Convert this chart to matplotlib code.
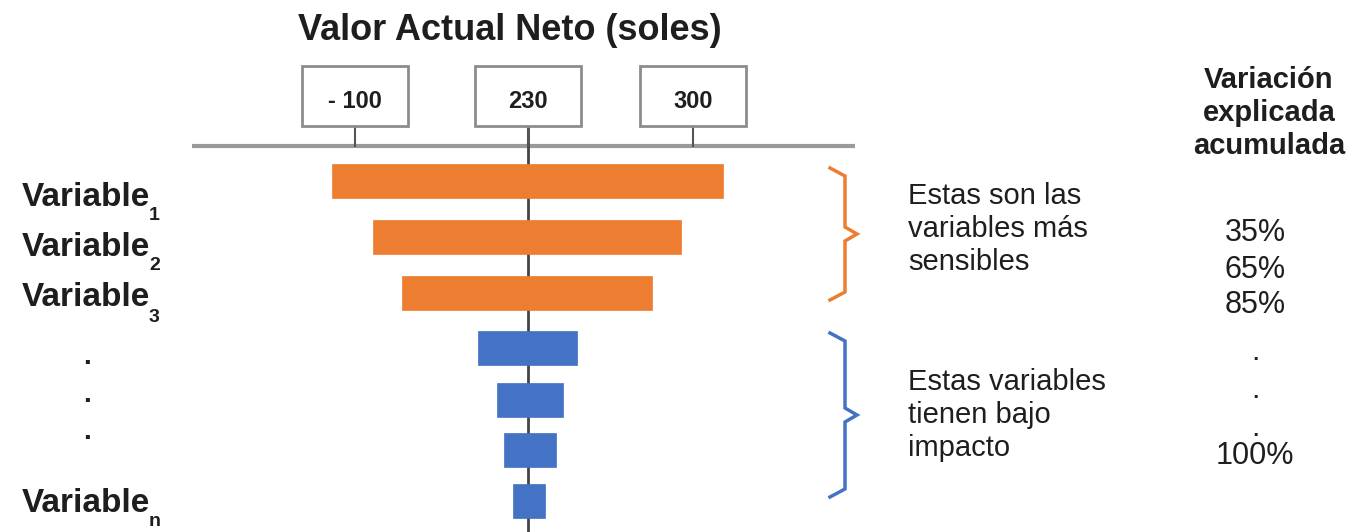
import matplotlib.pyplot as plt
from matplotlib.patches import Rectangle

plt.rcParams['font.family'] = ['Liberation Sans', 'DejaVu Sans']

# tornado data (schematic VAN scale, base case = 230)
base_van = 230
van_low = [34, 75, 104, 180, 199, 206, 215]
van_high = [425, 383, 354, 279, 265, 258, 247]
bar_group = ['high', 'high', 'high', 'low', 'low', 'low', 'low']
tick_vals = [57, 230, 395]
tick_labels = ['- 100', '230', '300']
var_labels = ['1', '2', '3', 'n']
cum_labels = ['35%', '65%', '85%', '.', '.', '.', '100%']
group_text = ['Estas son las\nvariables más\nsensibles',
              'Estas variables\ntienen bajo\nimpacto']

ORANGE = '#ED7D31'
BLUE = '#4472C4'
TXT = '#1e1e1e'
W, H = 1347, 532

fig = plt.figure(figsize=(W / 100, H / 100), dpi=100)
ax = fig.add_axes([0, 0, 1, 1])
ax.set_xlim(-298, W - 298)
ax.set_ylim(H, 0)
ax.axis('off')

# overlay in pixel coordinates for annotations
ov = fig.add_axes([0, 0, 1, 1], facecolor='none')
ov.set_xlim(0, W)
ov.set_ylim(H, 0)
ov.axis('off')

row_y = [181, 237, 293, 348, 400, 450, 501]
colors = [ORANGE if g == 'high' else BLUE for g in bar_group]
widths = [h - l for l, h in zip(van_low, van_high)]

# axis line and base line
ax.plot([-106, 557], [146, 146], color='#9a9a9a', lw=3, zorder=1,
        solid_capstyle='butt')
ax.plot([base_van, base_van], [126, H], color='#444444', lw=2, zorder=1)

ax.barh(row_y, widths, left=van_low, height=34, color=colors,
        edgecolor=colors, linewidth=0.5, zorder=3)

# tick boxes
for v, lab in zip(tick_vals, tick_labels):
    ax.plot([v, v], [126, 146], color='#555555', lw=1.5, zorder=2)
    ax.add_patch(Rectangle((v - 53, 66), 106, 60, facecolor='white',
                           edgecolor='#8c8c8c', lw=2, zorder=2))
    ax.text(v, 101, lab, ha='center', va='center', fontsize=17,
            fontweight='bold', color=TXT, zorder=4)

ov.text(510, 31, 'Valor Actual Neto (soles)', ha='center', va='center',
        fontsize=26, fontweight='bold', color=TXT)

# left labels
for y, s in zip([197, 247, 298, 503], var_labels):
    ov.text(22, y, 'Variable', ha='left', va='center',
            fontsize=24, fontweight='bold', color=TXT)
    ov.text(149, y + 19, s, ha='left', va='center',
            fontsize=14, fontweight='bold', color=TXT)
for y in [364, 402, 439]:
    ov.text(87, y, '.', ha='center', va='baseline', fontsize=20,
            fontweight='bold', color=TXT)


def brace(y0, y1, color):
    ym = (y0 + y1) / 2
    xs = [830, 845, 845, 857, 845, 845, 830]
    ys = [y0, y0 + 8, ym - 7, ym, ym + 7, y1 - 8, y1]
    ov.plot(xs, ys, color=color, lw=2.5, solid_joinstyle='miter')


brace(168, 300, ORANGE)
brace(333, 497, BLUE)

ov.text(908, 229, group_text[0], ha='left', va='center', fontsize=21,
        color=TXT, linespacing=1.25)
ov.text(908, 415, group_text[1], ha='left', va='center', fontsize=21,
        color=TXT, linespacing=1.25)

ov.text(1269, 113, 'Variación\nexplicada\nacumulada', ha='center',
        va='center', fontsize=21, fontweight='bold', color=TXT,
        linespacing=1.25)
for y, s in zip([233, 270, 305, 352, 390, 428, 456], cum_labels):
    ov.text(1255, y, s, ha='center', va='center', fontsize=22,
            color=TXT)

fig.savefig('out.png', dpi=100)
